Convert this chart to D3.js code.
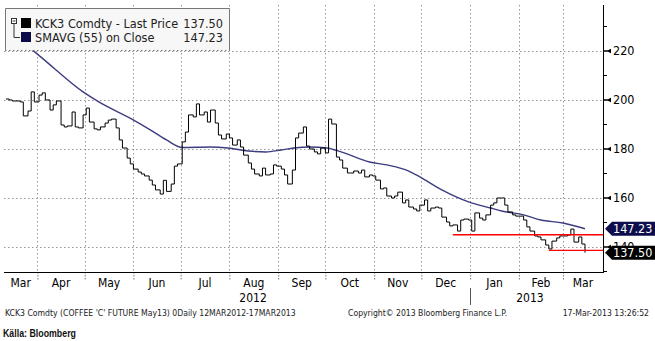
<!DOCTYPE html>
<html>
<head>
<meta charset="utf-8">
<script src="https://cdn.jsdelivr.net/npm/d3@7"></script>
<style>
  html, body { margin: 0; padding: 0; background: #fff; }
  svg { display: block; }
</style>
</head>
<body>
<svg id="chart" width="655" height="341"></svg>
<script>
// Coffee 'C' May13 future (KCK3), daily, with 55-day simple moving average.

// Monday of each week; prices below are Mon / Wed / Fri closes of that week.
const weekStarts = [
  "2012-03-12","2012-03-19","2012-03-26","2012-04-02","2012-04-09","2012-04-16","2012-04-23","2012-04-30",
  "2012-05-07","2012-05-14","2012-05-21","2012-05-28","2012-06-04","2012-06-11","2012-06-18","2012-06-25",
  "2012-07-02","2012-07-09","2012-07-16","2012-07-23","2012-07-30","2012-08-06","2012-08-13","2012-08-20",
  "2012-08-27","2012-09-03","2012-09-10","2012-09-17","2012-09-24","2012-10-01","2012-10-08","2012-10-15",
  "2012-10-22","2012-10-29","2012-11-05","2012-11-12","2012-11-19","2012-11-26","2012-12-03","2012-12-10",
  "2012-12-17","2012-12-24","2012-12-31","2013-01-07","2013-01-14","2013-01-21","2013-01-28","2013-02-04",
  "2013-02-11","2013-02-18","2013-02-25","2013-03-04","2013-03-11"
];
const dayOffsets = [0, 2, 4];
const lastPrice = [
  [200.2,199.8,199.4],[199.4,199.0,193.3],[195.3,203.1,199.0],[201.8,202.7,199.8],[195.7,197.8,199.4],
  [189.6,188.8,189.2],[194.9,188.8,188.4],[193.7,196.5,190.8],[188.0,187.6,188.8],[190.4,191.6,192.0],
  [188.4,183.5,180.2],[176.1,173.7,171.6],[170.4,169.6,168.8],[167.1,165.1,163.1],[161.4,167.0,162.5],
  [165.5,172.8,173.7],[182.7,186.7,193.7],[192.9,198.2,193.7],[194.9,190.8,195.7],[190.4,185.5,183.9],
  [185.9,184.3,181.4],[183.5,180.6,177.3],[174.1,171.6,169.6],[168.8,172.0,169.2],[169.6,173.3,172.8],
  [171.6,169.2,165.5],[171.2,184.3,186.3],[188.8,181.0,179.8],[178.6,177.8,180.2],[178.2,192.0,190.0],
  [176.5,175.3,172.0],[170.0,170.0,170.8],[170.0,171.2,168.4],[169.2,168.8,167.1],[163.5,163.9,160.6],
  [159.8,160.6,162.2],[157.8,159.0,156.1],[155.3,154.5,156.9],[159.0,154.5,155.7],[156.1,155.7,152.0],
  [150.0,148.4,148.8],[146.3,150.8,151.2],[150.8,146.3,153.7],[151.6,150.8,152.9],[156.9,157.8,159.8],
  [159.8,156.9,154.1],[152.9,152.4,152.4],[150.8,148.0,146.3],[144.3,143.9,142.7],[140.6,139.0,142.2],
  [143.5,144.3,144.3],[144.7,147.1,141.8],[143.9,141.0,137.50]
];

// 55-day simple moving average on close
const smaDates = [
  "2012-03-12","2012-04-04","2012-04-30","2012-05-10","2012-05-31","2012-06-13","2012-06-22","2012-07-02",
  "2012-07-20","2012-07-31","2012-08-13","2012-08-24","2012-09-03","2012-09-11","2012-09-21","2012-10-02",
  "2012-10-11","2012-10-29","2012-11-09","2012-11-23","2012-11-30","2012-12-14","2012-12-31","2013-01-14",
  "2013-01-21","2013-02-04","2013-02-15","2013-03-01","2013-03-15"
];
const smaValues = [
  229.2,216.9,203.1,199.0,192.0,187.1,183.5,180.4,
  180.6,180.2,179.0,178.6,179.4,180.2,180.6,180.2,
  178.6,174.5,173.3,170.8,168.4,163.1,158.2,155.7,
  154.5,152.9,150.8,149.6,147.23
];

// Horizontal support levels drawn in red
const supportStart = ["2012-12-21", "2013-02-20"];
const supportLevel = [144.8, 138.4];

const yTicks = [140, 160, 180, 200, 220];
const yMinorTicks = [130, 150, 170, 190, 210, 230];
const monthNames = ["Jan","Feb","Mar","Apr","May","Jun","Jul","Aug","Sep","Oct","Nov","Dec"];
const yearLabels = ["2012", "2013"];
const yearLabelDates = ["2012-08-16", "2013-02-08"];

const legendLabels = ["KCK3 Comdty - Last Price", "SMAVG (55) on Close"];
const legendValues = [137.50, 147.23];
const seriesColors = ["#000000", "#0b0b4a"];

const footerLeft = "KCK3 Comdty (COFFEE 'C' FUTURE May13) 0Daily 12MAR2012-17MAR2013";
const footerMid = "Copyright\u00a9 2013 Bloomberg Finance L.P.";
const footerRight = "17-Mar-2013 13:26:52";
const sourceNote = "Källa: Bloomberg";

// ---------------------------------------------------------------------------
const parse = d3.timeParse("%Y-%m-%d");
const svg = d3.select("#chart");
const W = 655, H = 341;
const plot = { left: 4, right: 603, top: 5, bottom: 272 };
const axisFont = "'DejaVu Sans Condensed', 'DejaVu Sans', sans-serif";

svg.append("rect").attr("width", W).attr("height", H).attr("fill", "#fff");

const priceData = weekStarts.flatMap((w, i) =>
  dayOffsets.map((o, j) => ({ date: d3.timeDay.offset(parse(w), o), value: lastPrice[i][j] })));
const smaData = smaDates.map((d, i) => ({ date: parse(d), value: smaValues[i] }));

const x = d3.scaleTime()
  .domain([parse("2012-03-12"), parse("2013-03-15")])
  .range([6, 585]);
const y = d3.scaleLinear().domain([140, 220]).range([246.5, 50.5]);

svg.append("defs").append("clipPath").attr("id", "plotClip")
  .append("rect")
  .attr("x", plot.left).attr("y", plot.top)
  .attr("width", plot.right - plot.left).attr("height", plot.bottom - plot.top);

// Gridlines
const grid = svg.append("g").attr("stroke", "#969696").attr("stroke-width", 1)
  .attr("stroke-dasharray", "1.5,2.5");
const monthStarts = d3.timeMonth.range(new Date(2012, 3, 1), new Date(2013, 2, 2));
grid.selectAll("line.v").data(monthStarts).join("line")
  .attr("x1", d => Math.round(x(d)) + 0.5).attr("x2", d => Math.round(x(d)) + 0.5)
  .attr("y1", plot.top).attr("y2", plot.bottom);
grid.selectAll("line.h").data(yTicks).join("line")
  .attr("x1", plot.left).attr("x2", plot.right)
  .attr("y1", d => Math.round(y(d)) + 0.5).attr("y2", d => Math.round(y(d)) + 0.5);

// Series
const plotG = svg.append("g").attr("clip-path", "url(#plotClip)");
plotG.append("path").datum(smaData)
  .attr("fill", "none").attr("stroke", "#3c3c80").attr("stroke-width", 1.4)
  .attr("d", d3.line().x(d => x(d.date)).y(d => y(d.value)).curve(d3.curveMonotoneX));
plotG.append("path").datum(priceData)
  .attr("fill", "none").attr("stroke", "#000").attr("stroke-width", 1)
  .attr("d", d3.line().x(d => x(d.date)).y(d => y(d.value)).curve(d3.curveStepAfter));

// Support levels
svg.append("g").selectAll("line").data(supportLevel).join("line")
  .attr("x1", (d, i) => x(parse(supportStart[i]))).attr("x2", plot.right)
  .attr("y1", d => y(d)).attr("y2", d => y(d))
  .attr("stroke", "#ff0000").attr("stroke-width", 1.3);

// Right value axis
const yAxis = d3.axisRight(y).tickValues(yTicks).tickSize(0).tickPadding(10);
const yAxisG = svg.append("g").attr("transform", `translate(${plot.right},0)`).call(yAxis);
yAxisG.select(".domain").remove();
yAxisG.selectAll("text").attr("font-family", axisFont).attr("font-size", 12.5).attr("fill", "#000");
yAxisG.selectAll(".tick").append("path")
  .attr("d", "M0,-0.7 L5,-0.7 L8,-2.2 L8,2.2 L5,0.7 L0,0.7 Z").attr("fill", "#000");
const yMinor = d3.axisRight(y).tickValues(yMinorTicks).tickSize(4).tickFormat("");
const yMinorG = svg.append("g").attr("transform", `translate(${plot.right},0)`).call(yMinor);
yMinorG.select(".domain").remove();
yMinorG.selectAll("line").attr("stroke", "#000");
svg.append("line").attr("x1", plot.right + 0.5).attr("x2", plot.right + 0.5)
  .attr("y1", plot.top).attr("y2", plot.bottom + 1).attr("stroke", "#000");

// Bottom time axis: dotted month ticks, labels centred within each month
const xAxis = d3.axisBottom(x).tickValues(monthStarts).tickSize(8).tickFormat("");
const xAxisG = svg.append("g").attr("transform", `translate(0,${plot.bottom})`).call(xAxis);
xAxisG.select(".domain").remove();
xAxisG.selectAll("line").attr("stroke", "#777").attr("stroke-dasharray", "1.5,1.5");
svg.append("line").attr("x1", plot.left).attr("x2", plot.right + 1)
  .attr("y1", plot.bottom + 0.5).attr("y2", plot.bottom + 0.5).attr("stroke", "#000");

const labelMonths = d3.timeMonth.range(new Date(2012, 2, 1), new Date(2013, 3, 1));
svg.append("g").selectAll("text").data(labelMonths).join("text")
  .attr("x", d => {
    const a = Math.max(x(d), plot.left), b = Math.min(x(d3.timeMonth.offset(d, 1)), plot.right);
    return (a + b) / 2;
  })
  .attr("y", 287).attr("text-anchor", "middle")
  .attr("font-family", axisFont).attr("font-size", 12).attr("fill", "#000")
  .text(d => monthNames[d.getMonth()]);
svg.append("g").selectAll("text").data(yearLabels).join("text")
  .attr("x", (d, i) => x(parse(yearLabelDates[i])))
  .attr("y", 302).attr("text-anchor", "middle")
  .attr("font-family", axisFont).attr("font-size", 12).attr("fill", "#000")
  .text(d => d);
const yearBreak = x(new Date(2013, 0, 1));
svg.append("line").attr("x1", Math.round(yearBreak) + 0.5).attr("x2", Math.round(yearBreak) + 0.5)
  .attr("y1", 288).attr("y2", 305).attr("stroke", "#555");

// Last-value tags on the right axis
const tagValues = [legendValues[1], legendValues[0]];
const tagColors = ["#0d0d4d", "#000000"];
const tags = svg.append("g").selectAll("g").data(tagValues).join("g")
  .attr("transform", d => `translate(${plot.right + 2},${y(d)})`);
tags.append("path")
  .attr("d", "M0,0 L7,-7 L50,-7 L50,7 L7,7 Z")
  .attr("fill", (d, i) => tagColors[i]);
tags.append("text")
  .attr("x", 8).attr("y", 0).attr("dy", "0.36em")
  .attr("font-family", axisFont).attr("font-size", 12.5).attr("fill", "#fff")
  .text(d => d3.format(".2f")(d));

// Legend
const lg = svg.append("g");
lg.append("rect").attr("x", 5).attr("y", 8.5).attr("width", 224).attr("height", 42)
  .attr("fill", "#f7f7f7");
lg.append("path").attr("d", "M5.5,50.5 L5.5,8.5 L229.5,8.5 L229.5,50.5")
  .attr("fill", "none").attr("stroke", "#777");
lg.append("line").attr("x1", 5).attr("x2", 230).attr("y1", 50.5).attr("y2", 50.5)
  .attr("stroke", "#777").attr("stroke-dasharray", "1.5,2.5");
lg.append("rect").attr("x", 11.5).attr("y", 18.5).attr("width", 5).attr("height", 5)
  .attr("fill", "#fff").attr("stroke", "#333");
lg.append("path").attr("d", "M12.5,21 L15.5,21 M14,23.5 L14,37.5 L20,37.5")
  .attr("fill", "none").attr("stroke", "#333");
lg.selectAll("rect.sw").data(legendLabels).join("rect").attr("class", "sw")
  .attr("x", 21).attr("y", (d, i) => 18 + i * 14).attr("width", 10).attr("height", 10)
  .attr("fill", (d, i) => seriesColors[i]);
lg.selectAll("text.lab").data(legendLabels).join("text").attr("class", "lab")
  .attr("x", 35).attr("y", (d, i) => 27.5 + i * 14)
  .attr("font-family", axisFont).attr("font-size", 12.6).attr("fill", "#222")
  .text(d => d);
lg.selectAll("text.val").data(legendValues).join("text").attr("class", "val")
  .attr("x", 223).attr("y", (d, i) => 27.5 + i * 14).attr("text-anchor", "end")
  .attr("font-family", axisFont).attr("font-size", 12.6).attr("fill", "#222")
  .text(d => d3.format(".2f")(d));

// Footer
const footG = svg.append("g").attr("font-family", axisFont).attr("font-size", 8.6).attr("fill", "#222");
footG.append("text").attr("x", 5).attr("y", 316).text(footerLeft);
footG.append("text").attr("x", 348).attr("y", 316).text(footerMid);
footG.append("text").attr("x", 649).attr("y", 316).attr("text-anchor", "end").text(footerRight);
svg.append("text")
  .attr("transform", "translate(3,337) scale(0.84,1)")
  .attr("font-family", "'Liberation Sans', sans-serif")
  .attr("font-weight", "bold").attr("font-size", 10.5).attr("fill", "#111")
  .text(sourceNote);
</script>
</body>
</html>
